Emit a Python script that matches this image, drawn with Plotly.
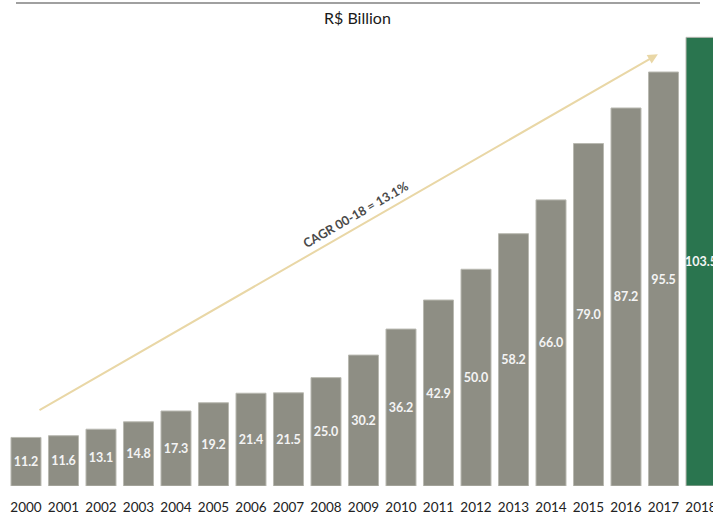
import plotly.graph_objects as go

years = [str(y) for y in range(2000, 2019)]
values = [11.2, 11.6, 13.1, 14.8, 17.3, 19.2, 21.4, 21.5, 25.0, 30.2,
          36.2, 42.9, 50.0, 58.2, 66.0, 79.0, 87.2, 95.5, 103.5]
labels = [f"{v:.1f}" for v in values]
bar_colors = ["#8E8E84"] * 18 + ["#2A754F"]

title_text = "R$ Billion"
cagr_text = "CAGR 00-18 = 13.1%"

W, H = 713, 514
fig = go.Figure()
fig.add_trace(go.Bar(
    x=list(range(len(years))), y=values, text=labels,
    marker=dict(color=bar_colors, line=dict(width=1, color="#B9B9B1")),
    textposition="inside", insidetextanchor="middle", textangle=0,
    constraintext="none",
    insidetextfont=dict(family="Lato", size=12.5, color="#F4F4F4", weight="bold"),
    cliponaxis=True,
))

# arrow (decoration)
fig.add_annotation(x=16.85, y=99.6, ax=0.32, ay=17.3, xref="x", yref="y",
                   axref="x", ayref="y", showarrow=True, arrowhead=2,
                   arrowsize=1.0, arrowwidth=2, arrowcolor="#E9D7A6", text="")
fig.add_annotation(x=8.80, y=62.7, xref="x", yref="y", text=cagr_text,
                   showarrow=False, textangle=-30,
                   font=dict(family="Lato", size=12.5, color="#4A4A4A", weight="bold"))
fig.add_annotation(x=357 / W, y=1 - 18 / 486, xref="paper", yref="paper",
                   text=title_text, showarrow=False, yanchor="middle",
                   font=dict(family="Lato", size=16, color="#1A1A1A"))
fig.add_shape(type="line", xref="paper", yref="paper", x0=16 / W, x1=700 / W,
              y0=1 - 3 / 486, y1=1 - 3 / 486, line=dict(color="#A0A0A0", width=2))

fig.update_layout(
    width=W, height=H, margin=dict(l=0, r=0, t=0, b=28, autoexpand=False),
    plot_bgcolor="white", paper_bgcolor="white", bargap=0.2, showlegend=False,
    xaxis=dict(range=[-0.693, 18.32], tickmode="array",
               tickvals=list(range(len(years))), ticktext=years,
               showgrid=False, zeroline=False, showline=False, ticks="",
               ticklabelstandoff=11, ticklabeloverflow="allow", automargin=False,
               tickfont=dict(family="Lato", size=13.5, color="#222222")),
    yaxis=dict(range=[0, 486 / 4.335], visible=False, showgrid=False,
               automargin=False),
)
fig.write_html("out.html")
